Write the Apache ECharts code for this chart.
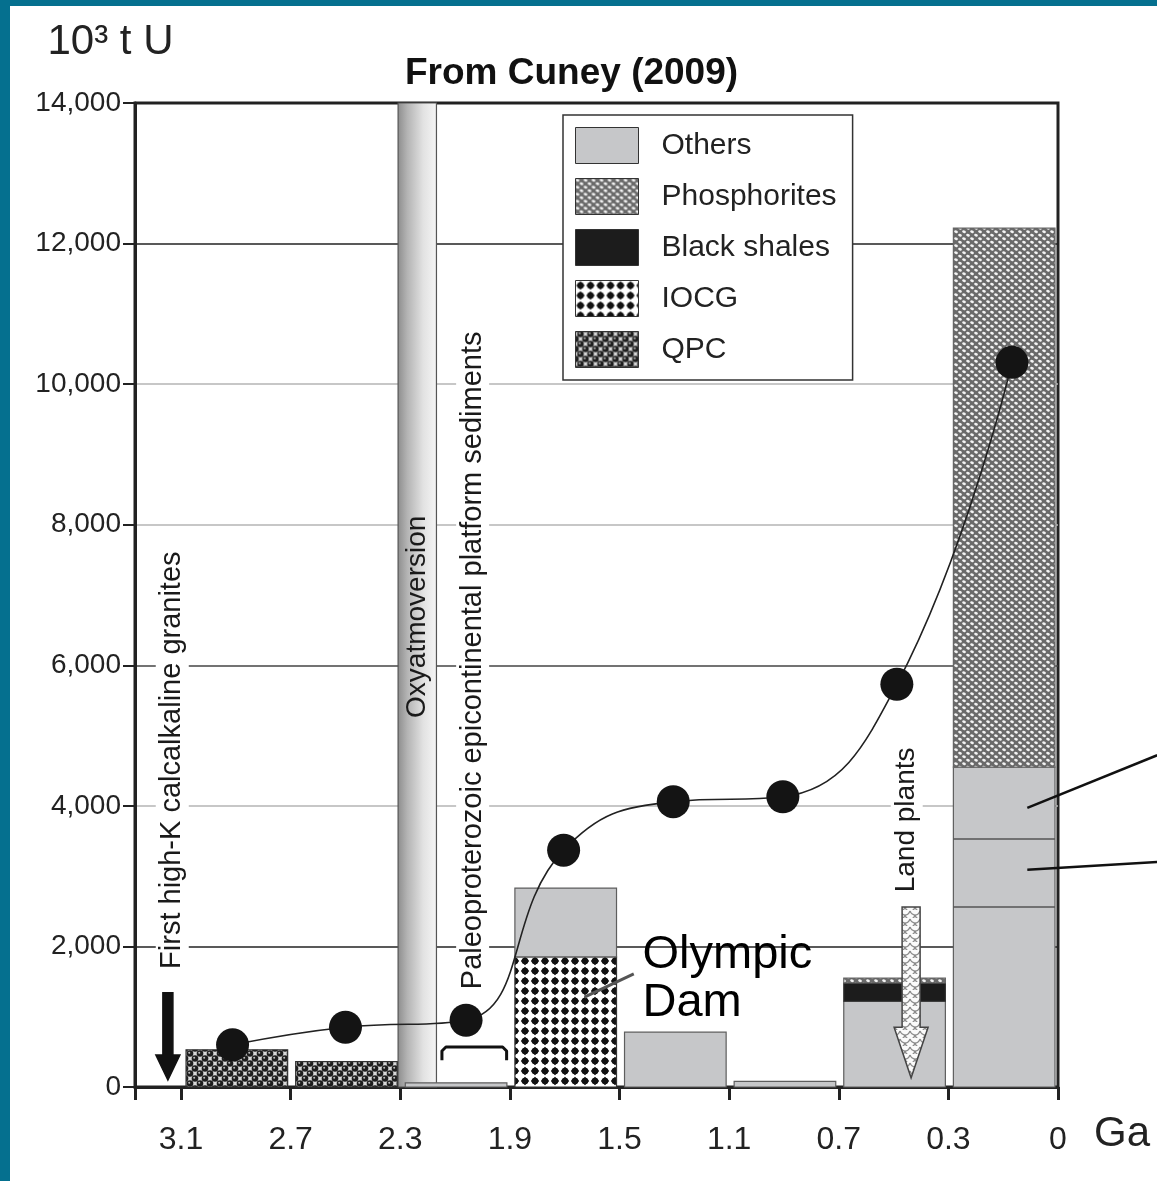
<!DOCTYPE html>
<html>
<head>
<meta charset="utf-8">
<script src="https://cdn.jsdelivr.net/npm/echarts@6/dist/echarts.min.js"></script>
<style>
  html, body { margin: 0; padding: 0; width: 1157px; height: 1181px; background: #05708f; overflow: hidden; }
  #chart { position: absolute; left: 10px; top: 6px; width: 1147px; height: 1175px; background: #fff; }
</style>
</head>
<body>
<div id="chart"></div>
<script>
// age tick labels (Ga), equally spaced on the axis
const tickLabels = ["3.1", "2.7", "2.3", "1.9", "1.5", "1.1", "0.7", "0.3", "0"];
// one bar per interval between two ticks
const intervals = ["3.1-2.7", "2.7-2.3", "2.3-1.9", "1.9-1.5", "1.5-1.1", "1.1-0.7", "0.7-0.3", "0.3-0"];

// uranium resources, 10^3 t U
const qpc          = [530, 360, 0, 0, 0, 0, 0, 0];
const iocg         = [0, 0, 0, 1850, 0, 0, 0, 0];
const others       = [0, 0, 60, 980, 780, 80, 1220, 4550];
const blackShales  = [0, 0, 0, 0, 0, 0, 260, 0];
const phosphorites = [0, 0, 0, 0, 0, 0, 70, 7670];
// sub-divisions of "Others" in the youngest bar
const othersSplits = [2560, 3530];
const othersSplitBar = 7;

// cumulative curve (dots)
const cumPos   = [0.47, 1.5, 2.6, 3.49, 4.49, 5.49, 6.53, 7.58];
const cumValue = [600, 850, 950, 3370, 4060, 4130, 5730, 10310];

const FONT = "'Liberation Sans', Arial, sans-serif";

function tile(w, h, draw) {
  const c = document.createElement("canvas");
  c.width = w; c.height = h;
  draw(c.getContext("2d"));
  return { image: c, repeat: "repeat" };
}

const patQpc = tile(10, 10, g => {
  g.fillStyle = "#d8d8d8"; g.fillRect(0, 0, 10, 10);
  g.fillStyle = "#1e1e1e";
  [[5, 2.5], [0, 7.5], [10, 7.5], [5, 12.5], [0, -2.5], [10, -2.5]].forEach(([x, y]) => {
    g.beginPath(); g.arc(x, y, 3.3, 0, Math.PI * 2); g.fill();
  });
  g.fillStyle = "#bdbdbd";
  [[4.2, 1.8], [-0.8, 6.8], [9.2, 6.8]].forEach(([x, y]) => {
    g.beginPath(); g.arc(x, y, 1, 0, Math.PI * 2); g.fill();
  });
});
const patIocg = tile(10, 10, g => {
  g.fillStyle = "#fff"; g.fillRect(0, 0, 10, 10);
  g.fillStyle = "#111";
  g.beginPath(); g.moveTo(5, 0.8); g.lineTo(9.2, 5); g.lineTo(5, 9.2); g.lineTo(0.8, 5); g.closePath(); g.fill();
  g.beginPath(); g.arc(5, 5, 3.3, 0, Math.PI * 2); g.fill();
});
const patPhos = tile(8, 7, g => {
  g.fillStyle = "#6a6a6a"; g.fillRect(0, 0, 8, 7);
  g.fillStyle = "#f4f4f4";
  [[2, 1.75], [6, 5.25], [-2, 5.25], [10, 1.75], [2, 8.75], [6, -1.75]].forEach(([x, y]) => {
    g.beginPath(); g.ellipse(x, y, 1.9, 1.3, 0.3, 0, Math.PI * 2); g.fill();
  });
});
const patPlants = tile(10, 8, g => {
  g.fillStyle = "#fafafa"; g.fillRect(0, 0, 10, 8);
  g.strokeStyle = "#8a8a8a"; g.lineWidth = 1.2;
  g.beginPath(); g.arc(5, 0, 5, 0.2, Math.PI - 0.2); g.stroke();
  g.beginPath(); g.arc(0, 4, 5, 0.2, Math.PI / 2); g.stroke();
  g.beginPath(); g.arc(10, 4, 5, Math.PI / 2, Math.PI - 0.2); g.stroke();
});

const stackDefs = [
  { name: "QPC", values: qpc, fill: patQpc, stroke: "#333" },
  { name: "IOCG", values: iocg, fill: patIocg, stroke: "#333" },
  { name: "Others", values: others, fill: "#c6c7c9", stroke: "#5e5e5e" },
  { name: "Black shales", values: blackShales, fill: "#1c1c1c", stroke: "#333" },
  { name: "Phosphorites", values: phosphorites, fill: patPhos, stroke: "#666" }
];

const base = intervals.map(() => 0);
const barSeries = stackDefs.map(def => {
  const data = [];
  def.values.forEach((v, i) => {
    if (v > 0) data.push([i, base[i], base[i] + v]);
    base[i] += v;
  });
  return {
    name: def.name,
    type: "custom",
    z: 2,
    itemStyle: { color: def.fill, borderColor: "#333", borderWidth: 1 },
    encode: { x: 0, y: [1, 2] },
    data: data,
    renderItem: (params, api) => {
      const i = api.value(0), lo = api.value(1), hi = api.value(2);
      const a = api.coord([i, lo]);
      const b = api.coord([i + 1, hi]);
      const x0 = a[0] + 5, x1 = b[0] - 3;
      const children = [{
        type: "rect",
        shape: { x: x0, y: b[1], width: x1 - x0, height: a[1] - b[1] },
        style: { fill: def.fill, stroke: def.stroke, lineWidth: 1.2 }
      }];
      if (def.name === "Others" && i === othersSplitBar) {
        othersSplits.forEach(s => {
          const y = api.coord([i, s])[1];
          children.push({ type: "line", shape: { x1: x0, y1: y, x2: x1, y2: y }, style: { stroke: "#555", lineWidth: 1.5 } });
        });
      }
      return { type: "group", children: children };
    }
  };
});

const chart = echarts.init(document.getElementById("chart"));

chart.setOption({
  animation: false,
  backgroundColor: "#fff",
  title: {
    text: "From Cuney (2009)",
    left: 390,
    top: 44,
    textStyle: { fontFamily: FONT, fontSize: 37, fontWeight: "bold", color: "#111" }
  },
  legend: {
    data: ["Others", "Phosphorites", "Black shales", "IOCG", "QPC"],
    orient: "vertical",
    left: 553,
    top: 109,
    itemWidth: 63,
    itemHeight: 36,
    itemGap: 14,
    padding: [12, 16, 12, 12],
    icon: "rect",
    backgroundColor: "#fff",
    borderColor: "#333",
    borderWidth: 1.5,
    selectedMode: false,
    itemStyle: { borderColor: "#333", borderWidth: 1 },
    textStyle: { fontFamily: FONT, fontSize: 30, color: "#222", padding: [0, 0, 0, 18] }
  },
  grid: {
    left: 125,
    right: 99,
    top: 97,
    bottom: 94,
    outerBoundsMode: "none",
    containLabel: false,
    show: true,
    borderColor: "#222",
    borderWidth: 3,
    backgroundColor: "transparent"
  },
  xAxis: {
    type: "value",
    min: -0.42,
    max: 8,
    name: "Ga",
    nameLocation: "end",
    nameGap: 36,
    nameTextStyle: { fontFamily: FONT, fontSize: 42, color: "#222", verticalAlign: "top", padding: [26, 0, 0, 0] },
    axisLine: { lineStyle: { color: "#222", width: 3 } },
    axisTick: { length: 13, lineStyle: { color: "#222", width: 3 }, customValues: [-0.42, 0, 1, 2, 3, 4, 5, 6, 7, 8] },
    axisLabel: {
      customValues: [0, 1, 2, 3, 4, 5, 6, 7, 8],
      formatter: v => tickLabels[Math.round(v)],
      margin: 37,
      fontFamily: FONT,
      fontSize: 32,
      color: "#222"
    },
    splitLine: { show: false }
  },
  yAxis: {
    type: "value",
    min: 0,
    max: 14000,
    interval: 2000,
    name: "10³ t U",
    nameLocation: "end",
    nameGap: 40,
    nameTextStyle: { fontFamily: FONT, fontSize: 42, color: "#222", align: "center", padding: [0, 49, 0, 0] },
    axisLine: { onZero: false, lineStyle: { color: "#222", width: 3 } },
    axisTick: { length: 12, lineStyle: { color: "#222", width: 2 } },
    axisLabel: {
      formatter: v => v.toLocaleString("en-US"),
      margin: 14,
      fontFamily: FONT,
      fontSize: 28,
      color: "#222"
    },
    splitLine: {
      show: true,
      lineStyle: { color: ["#222", "#222", "#b5b5b5", "#444", "#b5b5b5", "#b5b5b5", "#222", "#222"], width: 1.5 }
    }
  },
  series: [
    ...barSeries,
    {
      name: "Cumulative",
      type: "line",
      z: 5,
      data: cumPos.map((x, i) => [x, cumValue[i]]),
      smooth: 0.45,
      symbol: "circle",
      symbolSize: 33,
      itemStyle: { color: "#141414" },
      lineStyle: { color: "#222", width: 1.6 }
    }
  ]
});

// annotations placed through the axes
const P = (x, y) => chart.convertToPixel({ xAxisIndex: 0, yAxisIndex: 0 }, [x, y]);

function vText(text, x, y, size, bg) {
  const p = P(x, y);
  return {
    type: "text", x: p[0], y: p[1], rotation: Math.PI / 2, z: 3,
    style: {
      text: text, fontFamily: FONT, fontSize: size, fill: "#1a1a1a",
      align: "center", verticalAlign: "middle",
      backgroundColor: bg ? "#fff" : null, padding: bg ? [2, 8] : 0
    }
  };
}

function downArrow(xc, yTop, yHead, yTip, halfShaft, halfHead, fill, stroke) {
  const t = P(xc, yTop), h = P(xc, yHead), tip = P(xc, yTip);
  return {
    type: "polygon", z: 6,
    shape: {
      points: [
        [t[0] - halfShaft, t[1]], [t[0] + halfShaft, t[1]],
        [t[0] + halfShaft, h[1]], [t[0] + halfHead, h[1]],
        [tip[0], tip[1]],
        [t[0] - halfHead, h[1]], [t[0] - halfShaft, h[1]]
      ]
    },
    style: { fill: fill, stroke: stroke, lineWidth: 1.5 }
  };
}

const b0 = P(1.98, 14000), b1 = P(2.33, 0);
const br0 = P(2.38, 570), br1 = P(2.97, 380);
const od = P(4.21, 2220);
const odA = P(4.13, 1610), odB = P(3.68, 1280);
const l1a = P(7.72, 3970), l1b = P(8.905, 4720);
const l2a = P(7.72, 3090), l2b = P(8.905, 3200);

chart.setOption({
  graphic: [
    {
      type: "rect", z: 1,
      shape: { x: b0[0], y: b0[1], width: b1[0] - b0[0], height: b1[1] - b0[1] },
      style: {
        fill: new echarts.graphic.LinearGradient(0, 0, 1, 0, [
          { offset: 0, color: "#8c8c8c" },
          { offset: 0.25, color: "#b4b4b4" },
          { offset: 0.65, color: "#e2e2e2" },
          { offset: 1, color: "#f6f6f6" }
        ]),
        stroke: "#555", lineWidth: 1.2
      }
    },
    vText("Oxyatmoversion", 2.155, 6690, 28, false),
    vText("First high-K calcalkaline granites", -0.08, 4650, 29, true),
    vText("Paleoproterozoic epicontinental platform sediments", 2.66, 6070, 29, true),
    vText("Land plants", 6.62, 3800, 28, true),
    {
      type: "polyline", z: 6,
      shape: { points: [[br0[0], br1[1]], [br0[0], br0[1] + 4], [br0[0] + 4, br0[1]], [br1[0] - 4, br0[1]], [br1[0], br0[1] + 4], [br1[0], br1[1]]] },
      style: { stroke: "#111", lineWidth: 3, lineJoin: "round", fill: null }
    },
    downArrow(-0.12, 1340, 455, 100, 5, 12, "#111", "#111"),
    downArrow(6.66, 2560, 850, 130, 9, 17, patPlants, "#444"),
    {
      type: "text", z: 6, x: od[0], y: od[1],
      style: { text: "Olympic\nDam", fontFamily: FONT, fontSize: 47, lineHeight: 48, fill: "#000", align: "left", verticalAlign: "top" }
    },
    { type: "line", z: 6, shape: { x1: odA[0], y1: odA[1], x2: odB[0], y2: odB[1] }, style: { stroke: "#555", lineWidth: 3 } },
    { type: "line", z: 6, shape: { x1: l1a[0], y1: l1a[1], x2: l1b[0], y2: l1b[1] }, style: { stroke: "#111", lineWidth: 2.5 } },
    { type: "line", z: 6, shape: { x1: l2a[0], y1: l2a[1], x2: l2b[0], y2: l2b[1] }, style: { stroke: "#111", lineWidth: 2.5 } }
  ]
});
</script>
</body>
</html>
